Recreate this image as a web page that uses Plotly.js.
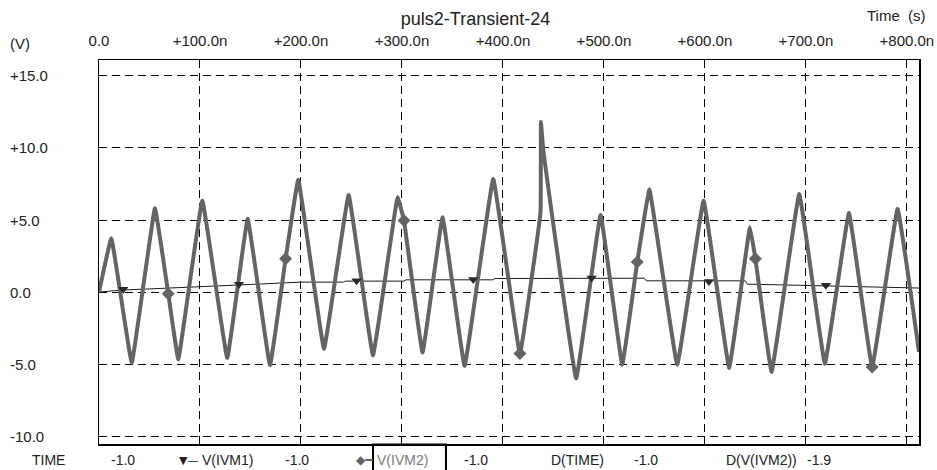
<!DOCTYPE html>
<html>
<head>
<meta charset="utf-8">
<script src="https://cdn.plot.ly/plotly-3.0.1.min.js"></script>
<style>html,body{margin:0;padding:0;background:#fff;}#chart{width:937px;height:470px;}</style>
</head>
<body>
<div id="chart"></div>
<script>
// ---- data (time in ns, volts) ----
const timeIVM2 = [0, 12.2, 32.4, 55.4, 68.6, 78.5, 102.3, 127, 147.2, 169.3, 184.8, 197.3, 222.8, 247.2, 271.3, 295.7, 302, 320.4, 340.2, 362, 390.4, 416.8, 437.2, 437.6, 439.9, 472.5, 496.7, 518.1, 533, 545, 572.6, 598.7, 624, 644.6, 650, 666, 693.4, 718.8, 742.6, 765.6, 790.8, 812];
const vIVM2 = [0, 3.74, -4.9, 5.82, -0.12, -4.67, 6.34, -4.57, 5.08, -5.08, 2.31, 7.8, -3.93, 6.74, -4.39, 6.58, 4.96, -4.2, 5.19, -5.12, 7.85, -4.27, 5.54, 11.8, 9.9, -6.0, 5.35, -5.03, 2.08, 7.11, -5.03, 6.34, -5.26, 4.5, 2.31, -5.54, 6.81, -4.97, 5.49, -5.2, 5.77, -4.16];
const timeIVM1 = [0, 25, 50, 75, 100, 125, 150, 175, 200, 242, 244, 302, 304, 390, 392, 540, 542, 640, 642, 700, 760, 812];
const vIVM1 = [0, 0.15, 0.22, 0.28, 0.35, 0.45, 0.53, 0.62, 0.69, 0.69, 0.76, 0.76, 0.85, 0.85, 0.94, 0.96, 0.78, 0.78, 0.55, 0.46, 0.38, 0.28];
const markTimeIVM1 = [24, 138.6, 255, 370.6, 487.8, 604, 719.8];
const markVIVM1 = [0.2, 0.55, 0.78, 0.87, 0.98, 0.74, 0.48];
const markTimeIVM2 = [68.6, 184.8, 302, 416.8, 533, 650, 765.6];
const markVIVM2 = [-0.12, 2.31, 4.96, -4.27, 2.08, 2.31, -5.2];
const xTickVals = [0, 100, 200, 300, 400, 500, 600, 700, 800];
const xTickText = ["0.0", "+100.0n", "+200.0n", "+300.0n", "+400.0n", "+500.0n", "+600.0n", "+700.0n", "+800.0n"];
const yTickVals = [15, 10, 5, 0, -5, -10];
const yTickText = ["+15.0", "+10.0", "+5.0", "0.0", "-5.0", "-10.0"];
const cursorLabels = ["TIME", "-1.0", "V(IVM1)", "-1.0", "V(IVM2)", "-1.0", "D(TIME)", "-1.0", "D(V(IVM2))", "-1.9"];

// ---- layout helpers ----
const W = 937, H = 470, ML = 99, MR = 18, MT = 60, MB = 26;
const PW = W - ML - MR, PH = H - MT - MB;
const px = x => (x - ML) / PW;          // pixel x -> paper x
const py = y => (H - MB - y) / PH;      // pixel y -> paper y
const FONT = "Liberation Sans, Arial, sans-serif";
const TXT = "#222";

const traces = [
  {x: timeIVM1, y: vIVM1, mode: "lines", line: {color: "#1a1a1a", width: 1}, hoverinfo: "skip"},
  {x: timeIVM2, y: vIVM2, mode: "lines", line: {color: "#646464", width: 4, shape: "spline", smoothing: 0.2}, hoverinfo: "skip"},
  {x: markTimeIVM1, y: markVIVM1, mode: "markers", marker: {symbol: "triangle-down", size: 9, color: "#2a2a2a"}, hoverinfo: "skip"},
  {x: markTimeIVM2, y: markVIVM2, mode: "markers", marker: {symbol: "diamond", size: 10, color: "#646464"}, hoverinfo: "skip"}
];

const ann = [];
yTickVals.forEach((v, i) => ann.push({
  x: px(8), xref: "paper", y: v, yref: "y", text: yTickText[i], showarrow: false,
  xanchor: "left", yanchor: "middle", font: {family: FONT, size: 15, color: TXT}
}));
ann.push({x: px(8), xref: "paper", y: py(44), yref: "paper", text: "(V)", showarrow: false,
  xanchor: "left", yanchor: "middle", font: {family: FONT, size: 15, color: TXT}});
ann.push({x: px(865), xref: "paper", y: py(15), yref: "paper", text: "Time\u00a0\u00a0(s)", showarrow: false,
  xanchor: "left", yanchor: "middle", font: {family: FONT, size: 15, color: TXT}});

// bottom cursor row
const rowY = py(460);
const cursorX = [30, 109, 200, 283, 375, 462, 549, 632, 724, 805];
cursorLabels.forEach((t, i) => ann.push({
  x: px(cursorX[i]), xref: "paper", y: rowY, yref: "paper", text: t, showarrow: false,
  xanchor: "left", yanchor: "middle",
  font: {family: FONT, size: 14, color: i === 4 ? "#7a7a7a" : TXT}
}));
ann.push({x: px(200), xref: "paper", y: rowY, yref: "paper", text: "▼—", showarrow: false,
  xanchor: "right", yanchor: "middle", font: {family: "DejaVu Sans", size: 11, color: "#222"}});
ann.push({x: px(375), xref: "paper", y: rowY, yref: "paper", text: "◆━", showarrow: false,
  xanchor: "right", yanchor: "middle", font: {family: "DejaVu Sans", size: 12, color: "#646464"}});

const layout = {
  width: W, height: H,
  margin: {l: ML, r: MR, t: MT, b: MB, pad: 0},
  paper_bgcolor: "#fff", plot_bgcolor: "#fff",
  showlegend: false,
  title: {text: "puls2-Transient-24", x: 475.5 / W, xref: "container", xanchor: "center",
    y: 1 - 19 / H, yref: "container", yanchor: "middle",
    font: {family: FONT, size: 18, color: TXT}},
  xaxis: {
    range: [0, 812], side: "top", tickvals: xTickVals, ticktext: xTickText,
    tickfont: {family: FONT, size: 15, color: TXT},
    ticks: "inside", ticklen: 8, tickcolor: "#000", tickwidth: 1,
    showline: true, linecolor: "#000", linewidth: 1.5, mirror: "ticks",
    showgrid: true, gridcolor: "#000", gridwidth: 1, griddash: "8px,5px",
    zeroline: false, fixedrange: true, ticklabelstandoff: 7
  },
  yaxis: {
    range: [-10.54, 16.1], tickvals: yTickVals, showticklabels: false,
    ticks: "", showline: true, linecolor: "#000", linewidth: 1.5, mirror: true,
    showgrid: true, gridcolor: "#000", gridwidth: 1, griddash: "8px,5px",
    zeroline: false, fixedrange: true
  },
  annotations: ann,
  shapes: [
    {type: "rect", xref: "paper", yref: "paper", x0: px(373), x1: px(446), y0: py(472), y1: py(444.5),
      line: {color: "#000", width: 2}, fillcolor: "rgba(0,0,0,0)"}
  ]
};

Plotly.newPlot("chart", traces, layout, {staticPlot: true, displayModeBar: false});
</script>
</body>
</html>
